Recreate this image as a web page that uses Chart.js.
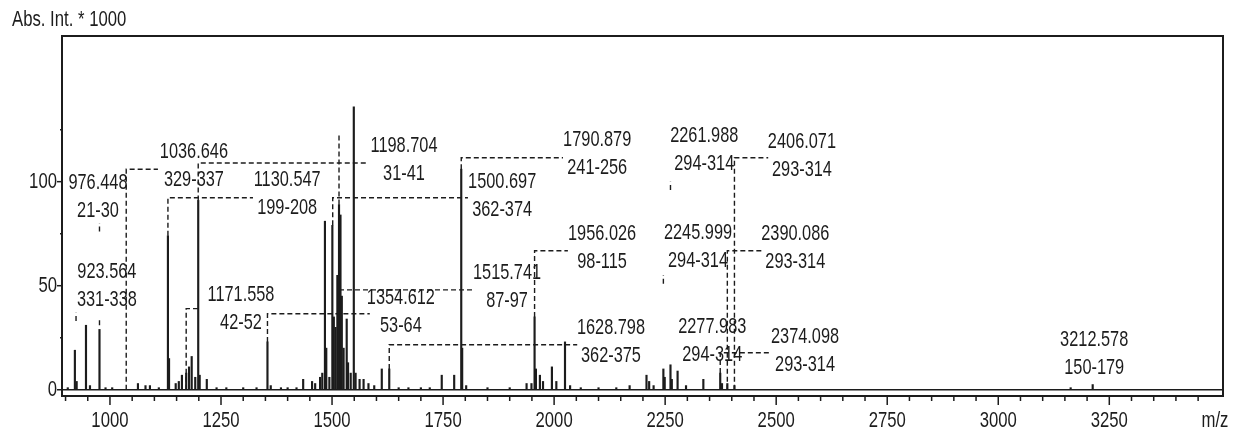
<!DOCTYPE html>
<html>
<head>
<title>Abs. Int. spectrum</title>
<script src="https://cdn.jsdelivr.net/npm/chart.js"></script>
<style>
  body { margin: 0; background: #fff; }
  #wrap { width: 1243px; height: 437px; position: relative; }
</style>
</head>
<body>
<div id="wrap"><canvas id="myChart"></canvas></div>
<script>
// peak positions (m/z) and intensities (Abs. Int. * 1000)
const peakMz = [
  905, 921, 925, 946, 955, 976.4, 990, 1005, 1063, 1080, 1090, 1110,
  1130.5, 1133, 1148, 1155, 1162, 1171.6, 1178, 1184, 1192, 1198.7, 1202, 1218,
  1240, 1262, 1300, 1330, 1354.6, 1362, 1385, 1400, 1420, 1435, 1455, 1462,
  1473, 1478, 1484, 1487, 1494, 1500.7, 1504, 1508, 1512, 1515.7, 1519, 1522,
  1526, 1533, 1536, 1542, 1549, 1553, 1562, 1571, 1582, 1595, 1612, 1628.8,
  1650, 1672, 1700, 1720, 1747, 1775, 1790.9, 1793, 1802, 1850, 1900, 1938,
  1949, 1956, 1959, 1968, 1975, 1995, 2005, 2024.5, 2036, 2060, 2100, 2140,
  2170, 2208, 2214, 2224, 2246, 2249, 2262, 2265, 2278, 2297, 2336, 2374,
  2378, 2390, 2406, 3163, 3212.6
];
const peakInt = [
  1, 19, 4, 31, 2, 29, 1, 1, 3, 2, 2, 1,
  74, 15, 3, 4, 7, 8, 11, 16, 6, 91, 7, 5,
  1, 1, 1, 1, 23, 2, 1, 1, 1, 5, 4, 3,
  6, 8, 81, 20, 6, 79, 35, 30, 55, 89, 84, 45,
  20, 34, 13, 8, 136, 8, 5, 5, 3, 2, 10, 10,
  1, 1, 1, 1, 7, 7, 106, 20, 2, 1, 1, 3,
  3, 35, 10, 7, 4, 11, 4, 23, 2, 1, 1, 1,
  2, 7, 4, 2, 10, 6, 12, 5, 9, 2, 5, 8,
  3, 3, 2, 1, 2.5
];

// dashed connectors, each a polyline of [m/z, intensity] points
const leaders = [
  [[923.6, 33], [923.6, 37]],
  [[976.4, 31], [976.4, 34]],
  [[976.4, 76], [976.4, 80]],
  [[1036.6, 0], [1036.6, 106], [1108, 106]],
  [[1130.5, 74], [1130.5, 92.3], [1322, 92.3]],
  [[1198.7, 91], [1198.7, 109], [1581, 109]],
  [[1171.6, 0], [1171.6, 39], [1203, 39]],
  [[1354.6, 23], [1354.6, 36.5], [1585, 36.5]],
  [[1501.5, 79], [1501.5, 92.3], [1806, 92.3]],
  [[1515.7, 89], [1515.7, 123]],
  [[1515.7, 48], [1822, 48]],
  [[1628.8, 10], [1628.8, 21.6], [2052, 21.6]],
  [[1790.9, 106], [1790.9, 111.5], [2020, 111.5]],
  [[1956, 35], [1956, 66.8], [2031, 66.8]],
  [[2246, 51], [2246, 55]],
  [[2262, 96], [2262, 100]],
  [[2374, 8], [2374, 17.8], [2486, 17.8]],
  [[2390, 0], [2390, 66.8], [2468, 66.8]],
  [[2406, 0], [2406, 111.5], [2482, 111.5]]
];

// peak annotations: mass, residue range, and where the label sits
const labelMass = ['976.448', '923.564', '1036.646', '1130.547', '1198.704', '1171.558',
  '1354.612', '1500.697', '1515.741', '1790.879', '1956.026', '1628.798', '2261.988',
  '2245.999', '2277.983', '2406.071', '2390.086', '2374.098', '3212.578'];
const labelRange = ['21-30', '331-338', '329-337', '199-208', '31-41', '42-52',
  '53-64', '362-374', '87-97', '241-256', '98-115', '362-375', '294-314',
  '294-314', '294-314', '293-314', '293-314', '293-314', '150-179'];
const labelAtMz = [973, 993, 1189, 1399, 1662, 1295, 1655, 1883, 1894, 2097, 2108,
  2128, 2338, 2324, 2356, 2558, 2543, 2565, 3216];
const labelAtInt = [99.5, 56.7, 114, 101, 117, 45.7, 44.2, 100, 56.3, 120, 75,
  29.8, 122, 75.5, 30.3, 119, 75, 25.5, 24];

const xLabelTicks = [1000, 1250, 1500, 1750, 2000, 2250, 2500, 2750, 3000, 3250];
const yLabelTicks = [0, 50, 100];

const FONT = '"Liberation Sans", Arial, sans-serif';
const INK = '#1c1c1c';

// the original lettering is tall and narrow
function narrowText(ctx, text, x, y, size, align) {
  ctx.save();
  ctx.translate(x, y);
  ctx.scale(0.76, 1);
  ctx.font = size + 'px ' + FONT;
  ctx.textAlign = align;
  ctx.textBaseline = 'middle';
  ctx.fillText(text, 0, 0);
  ctx.restore();
}

const leaderSets = leaders.map(pts => ({
  type: 'line',
  data: pts.map(p => ({ x: p[0], y: p[1] })),
  borderColor: INK,
  borderWidth: 1.4,
  borderDash: [5, 3],
  pointRadius: 0,
  fill: false,
  tension: 0
}));

// frame, tick marks, tick labels and peak labels
const spectrumDecor = {
  id: 'spectrumDecor',
  afterDatasetsDraw(chart) {
    const { ctx, chartArea: a, scales: { x, y } } = chart;
    ctx.save();
    ctx.strokeStyle = INK;
    ctx.fillStyle = INK;
    ctx.lineWidth = 2;
    ctx.strokeRect(a.left, a.top, a.right - a.left, a.bottom - a.top);

    ctx.lineWidth = 1.5;
    x.ticks.forEach(t => {
      const px = x.getPixelForValue(t.value);
      if (px < a.left + 3 || px > a.right - 3) return;
      const major = xLabelTicks.includes(t.value);
      ctx.beginPath();
      ctx.moveTo(px, a.bottom);
      ctx.lineTo(px, a.bottom + (major ? 9 : 5));
      ctx.stroke();
      if (major) narrowText(ctx, String(t.value), px, a.bottom + 25, 22, 'center');
    });
    y.ticks.forEach(t => {
      if (t.value > 125) return;
      const py = y.getPixelForValue(t.value);
      const major = yLabelTicks.includes(t.value);
      ctx.beginPath();
      ctx.moveTo(a.left, py);
      ctx.lineTo(a.left - (major ? 5 : 2), py);
      ctx.stroke();
      if (major) narrowText(ctx, String(t.value), a.left - 5, py, 22, 'right');
    });

    labelMass.forEach((m, i) => {
      const px = x.getPixelForValue(labelAtMz[i]);
      const py = y.getPixelForValue(labelAtInt[i]);
      narrowText(ctx, m, px, py, 21.5, 'center');
      narrowText(ctx, labelRange[i], px, py + 28, 21.5, 'center');
    });

    narrowText(ctx, 'm/z', a.right - 8, a.bottom + 25, 22, 'center');
    narrowText(ctx, 'Abs. Int. * 1000', 12, 20, 22, 'left');
    ctx.restore();
  }
};

new Chart(document.getElementById('myChart'), {
  type: 'bar',
  data: {
    datasets: [{
      type: 'bar',
      data: peakMz.map((m, i) => ({ x: m, y: peakInt[i] })),
      backgroundColor: INK,
      borderWidth: 0,
      barThickness: 1.5
    }].concat(leaderSets)
  },
  options: {
    responsive: true,
    maintainAspectRatio: false,
    animation: false,
    events: [],
    layout: { padding: { left: 0, right: 20, top: 36, bottom: 0 } },
    plugins: {
      legend: { display: false },
      tooltip: { enabled: false }
    },
    scales: {
      x: {
        type: 'linear',
        min: 892,
        max: 3506,
        offset: false,
        grid: { display: false, drawTicks: false, offset: false },
        border: { display: false },
        ticks: { display: false, stepSize: 50, includeBounds: false, autoSkip: false },
        afterFit: s => { s.height = 41; }
      },
      y: {
        type: 'linear',
        min: -3,
        max: 170,
        grid: {
          drawTicks: false,
          lineWidth: 1.5,
          color: c => (c.tick && c.tick.value === 0 ? INK : 'rgba(0,0,0,0)')
        },
        border: { display: false },
        ticks: { display: false, stepSize: 25, includeBounds: false, autoSkip: false },
        afterFit: s => { s.width = 62; }
      }
    }
  },
  plugins: [spectrumDecor]
});
</script>
</body>
</html>
